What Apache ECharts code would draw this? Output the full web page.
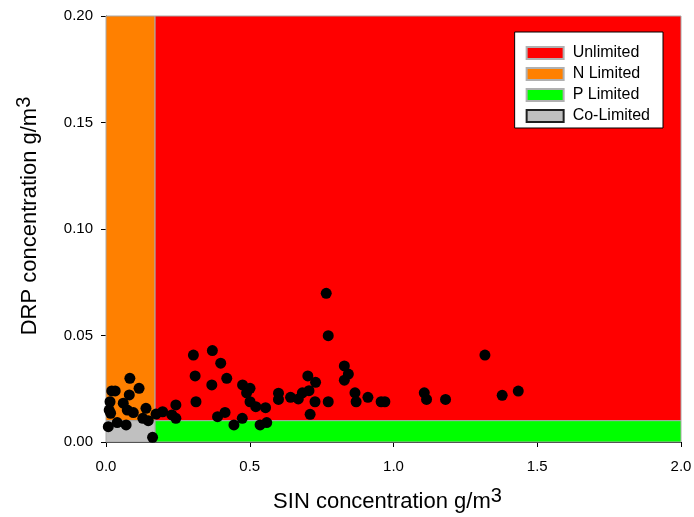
<!DOCTYPE html>
<html>
<head>
<meta charset="utf-8">
<style>
  html, body { margin: 0; padding: 0; background: #fff; }
  #chart { width: 694px; height: 517px; }
</style>
<script src="https://cdn.jsdelivr.net/npm/echarts@6/dist/echarts.min.js"></script>
</head>
<body>
<div id="chart"></div>
<script>
// SIN (x) vs DRP (y), g/m3
var sinVals = [
  0.008, 0.014, 0.011, 0.016, 0.020, 0.032, 0.039, 0.060, 0.070, 0.081,
  0.083, 0.074, 0.095, 0.115, 0.128, 0.139, 0.147, 0.162, 0.174, 0.197,
  0.229, 0.243, 0.243, 0.304, 0.310, 0.313, 0.368, 0.370, 0.399, 0.420,
  0.388, 0.414, 0.445, 0.475, 0.489, 0.501, 0.474, 0.501, 0.521, 0.536,
  0.555, 0.559, 0.600, 0.600, 0.642, 0.669, 0.683, 0.702, 0.706, 0.727,
  0.729, 0.710, 0.766, 0.773, 0.773, 0.829, 0.829, 0.843, 0.866, 0.870,
  0.911, 0.957, 0.970, 1.107, 1.115, 1.181, 1.318, 1.378, 1.434
];
var drpVals = [
  0.0072, 0.0189, 0.0150, 0.0135, 0.0240, 0.0240, 0.0091, 0.0182, 0.0080, 0.0221,
  0.0299, 0.0150, 0.0138, 0.0252, 0.0111, 0.0158, 0.0100, 0.0022, 0.0131, 0.0142,
  0.0127, 0.0174, 0.0111, 0.0408, 0.0310, 0.0189, 0.0268, 0.0429, 0.0370, 0.0299,
  0.0119, 0.0139, 0.0080, 0.0268, 0.0231, 0.0252, 0.0111, 0.0189, 0.0166, 0.0080,
  0.0161, 0.0091, 0.0229, 0.0200, 0.0210, 0.0202, 0.0231, 0.0310, 0.0241, 0.0189,
  0.0280, 0.0130, 0.0698, 0.0499, 0.0189, 0.0357, 0.0290, 0.0319, 0.0231, 0.0189,
  0.0210, 0.0189, 0.0189, 0.0231, 0.0200, 0.0200, 0.0408, 0.0219, 0.0239
];

// limitation zones: [xmin, ymin, xmax, ymax]
var zoneNames = ['Unlimited', 'N Limited', 'P Limited', 'Co-Limited'];
var zoneColors = ['#ff0000', '#ff8000', '#00ff00', '#c0c0c0'];
var zoneEdges = ['#b0b0b0', '#b0b0b0', '#b0b0b0', '#202020'];
var zoneBounds = [
  [0.17, 0.01, 2.0, 0.2],
  [0, 0.01, 0.17, 0.2],
  [0.17, 0, 2.0, 0.01],
  [0, 0, 0.17, 0.01]
];

var points = sinVals.map(function (x, i) { return [x, drpVals[i]] })

var series = zoneNames.map(function (name, i) {
  var b = zoneBounds[i]
  return {
    name: name,
    type: 'scatter',
    data: [],
    itemStyle: { color: zoneColors[i], opacity: 1, borderColor: zoneEdges[i], borderWidth: 1 },
    markArea: {
      silent: true,
      itemStyle: { color: zoneColors[i], opacity: 1, borderColor: '#a8a8a8', borderWidth: 1 },
      data: [[{ coord: [b[0], b[1]] }, { coord: [b[2], b[3]] }]]
    }
  }
})

series.push({
  name: 'obs',
  type: 'scatter',
  data: points,
  symbolSize: 11,
  itemStyle: { color: '#000', opacity: 1 },
  z: 10
})

var myChart = echarts.init(document.getElementById('chart'))
myChart.setOption({
  animation: false,
  textStyle: { fontFamily: 'Liberation Sans, Arial, sans-serif' },
  grid: { left: 106, right: 13, top: 16, bottom: 75, outerBoundsMode: 'none', containLabel: false },
  legend: {
    data: zoneNames,
    orient: 'vertical',
    right: 31,
    top: 32,
    backgroundColor: '#fff',
    borderColor: '#000',
    borderWidth: 1,
    padding: [13, 13, 4, 11],
    itemGap: 5,
    itemWidth: 37,
    itemHeight: 12,
    icon: 'rect',
    textStyle: { fontSize: 16, color: '#000', padding: [0, 0, 0, 4] }
  },
  xAxis: {
    type: 'value',
    min: 0,
    max: 2,
    interval: 0.5,
    name: '{a|SIN concentration g/m}{b|3}',
    nameLocation: 'middle',
    nameGap: 44,
    nameTextStyle: {
      padding: [0, 12, 0, 0],
      rich: {
        a: { fontSize: 22, color: '#000' },
        b: { fontSize: 20, color: '#000', padding: [0, 0, 12, 0] }
      }
    },
    axisLine: { lineStyle: { color: '#000' } },
    axisTick: { length: 5, lineStyle: { color: '#000' } },
    axisLabel: {
      color: '#000',
      fontSize: 15,
      margin: 17,
      formatter: function (v) { return v.toFixed(1) }
    },
    splitLine: { show: false }
  },
  yAxis: {
    type: 'value',
    min: 0,
    max: 0.2,
    interval: 0.05,
    name: '{a|DRP concentration g/m}{b|3}',
    nameLocation: 'middle',
    nameGap: 60,
    nameTextStyle: {
      padding: [0, 0, 0, 26],
      rich: {
        a: { fontSize: 22, color: '#000' },
        b: { fontSize: 20, color: '#000', padding: [0, 0, 12, 0] }
      }
    },
    axisLine: { show: true, lineStyle: { color: '#000' } },
    axisTick: { show: true, length: 5, lineStyle: { color: '#000' } },
    axisLabel: {
      color: '#000',
      fontSize: 15,
      margin: 13,
      formatter: function (v) { return v.toFixed(2) }
    },
    splitLine: { show: false }
  },
  series: series
})
</script>
</body>
</html>
